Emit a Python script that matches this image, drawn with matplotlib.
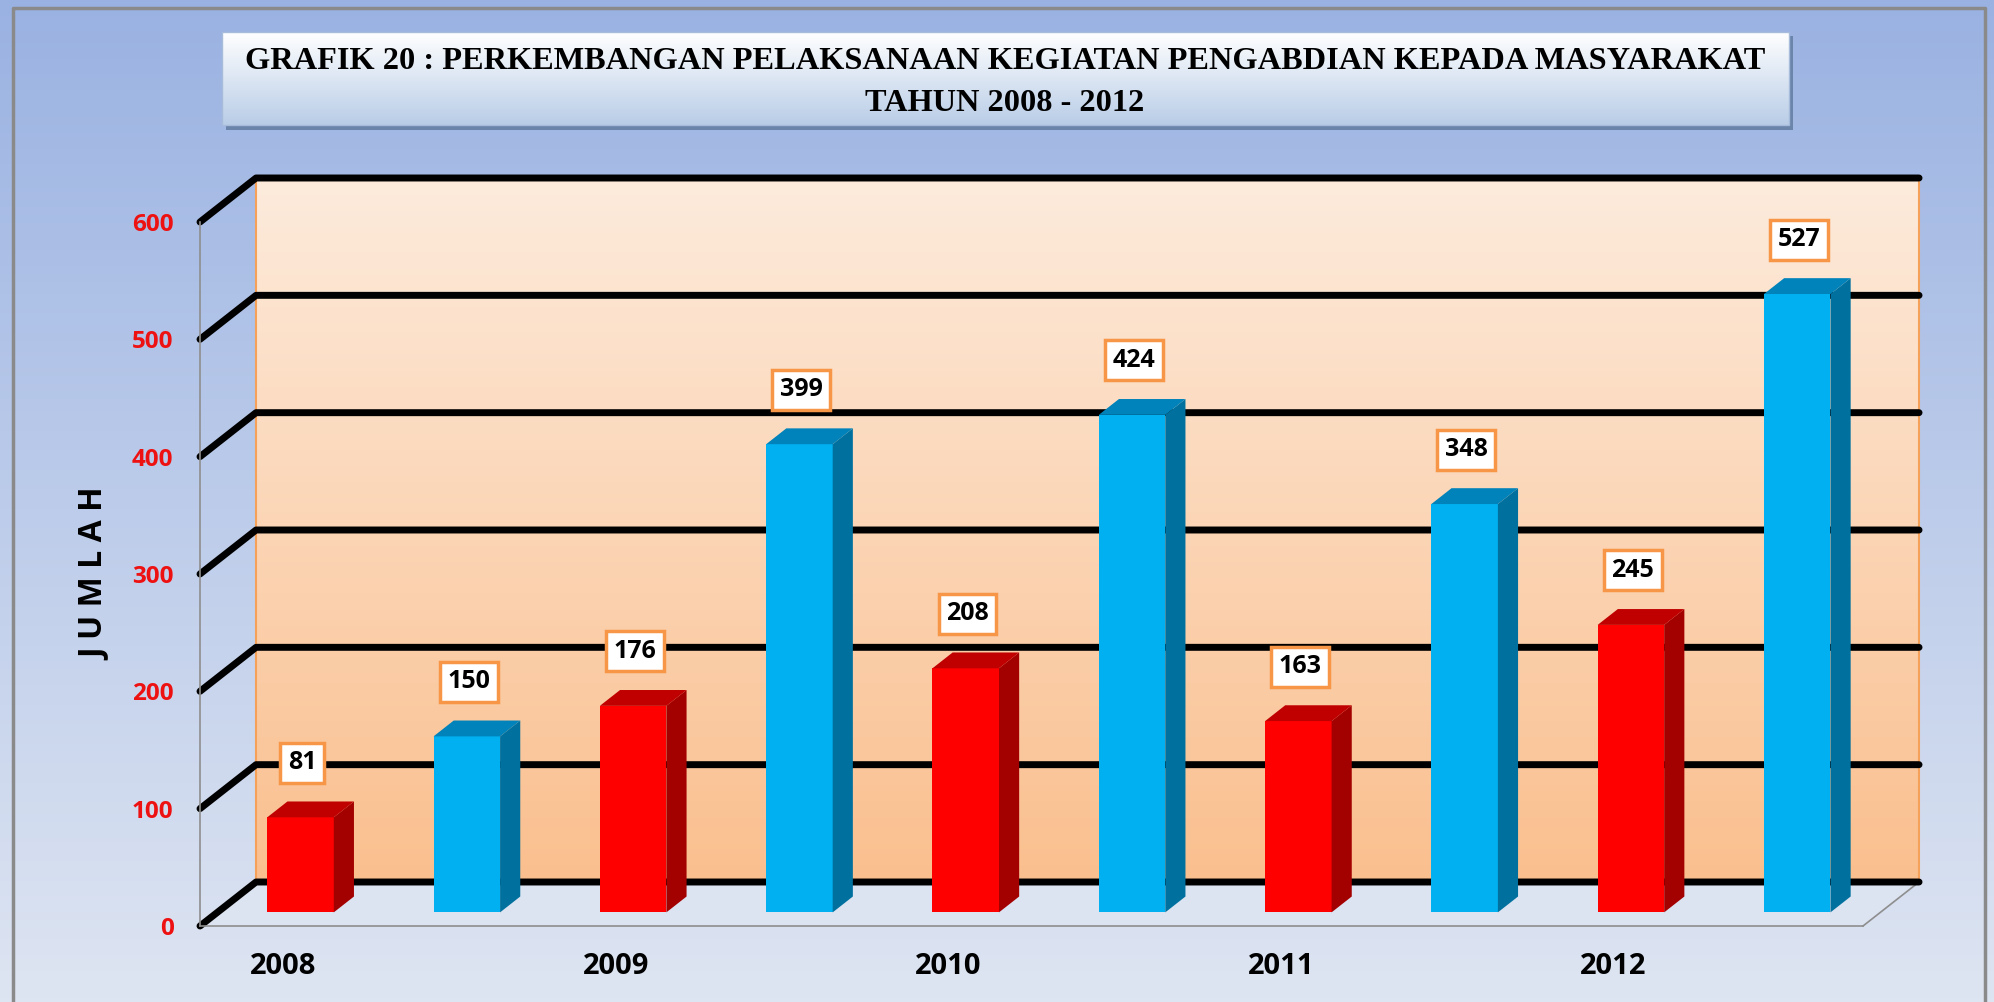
import numpy as np
import matplotlib.pyplot as plt
from matplotlib.patches import Polygon, Rectangle
from matplotlib.colors import LinearSegmentedColormap

plt.rcParams['font.family'] = ['Open Sans', 'DejaVu Sans']

# data
years = ['2008', '2009', '2010', '2011', '2012']
values = [81, 150, 176, 399, 208, 424, 163, 348, 245, 527]
front_colors = ['#FF0000', '#00B0F0'] * 5
side_colors = ['#A30000', '#00719F'] * 5
top_colors = ['#C00000', '#0082BA'] * 5
yticks = [0, 100, 200, 300, 400, 500, 600]
title1 = 'GRAFIK 20 : PERKEMBANGAN PELAKSANAAN KEGIATAN PENGABDIAN KEPADA MASYARAKAT'
title2 = 'TAHUN 2008 - 2012'

W, H = 1994, 1002
fig = plt.figure(figsize=(W / 100, H / 100), dpi=100)

# background + frame + title box (pixel coords)
bg = fig.add_axes([0, 0, 1, 1], zorder=0)
grad = np.linspace(0, 1, 256).reshape(-1, 1)
bg.imshow(grad, extent=[0, W, H, 0], aspect='auto', zorder=0,
          cmap=LinearSegmentedColormap.from_list('bg', ['#9AB2E2', '#DEE5F2']))
bg.plot([13, 13, 1985, 1985], [1010, 8, 8, 1010], color='#8A8A8A', lw=2.5, zorder=1)
bg.add_patch(Rectangle((226, 36), 1567, 94, fc='#6A84AA', ec='none', zorder=1))
bg.imshow(grad, extent=[222, 1789, 125, 32], aspect='auto', zorder=2,
          cmap=LinearSegmentedColormap.from_list('tb', ['#FFFFFF', '#B9CDE7']))
bg.add_patch(Rectangle((222, 32), 1567, 93, fc='none', ec='#A7BCDB', lw=1, zorder=3))
bg.text(1005, 61, title1, ha='center', va='center', family='Liberation Serif',
        weight='bold', fontsize=23.3, zorder=4)
bg.text(1005, 103, title2, ha='center', va='center', family='Liberation Serif',
        weight='bold', fontsize=23.3, zorder=4)
bg.set_xlim(0, W)
bg.set_ylim(H, 0)
bg.axis('off')

# main chart axes: front plane of the 3D box
x0, x1, y0, y1 = 200, 1863, 926, 222
ax = fig.add_axes([x0 / W, (H - y0) / H, (x1 - x0) / W, (y0 - y1) / H], zorder=1)
ax.patch.set_visible(False)

DX, DY = 0.337, 37.5    # depth of the box in data units
d0, d1 = 0.31, 0.67     # bar depth range
bw = 0.4

# back wall
wall = LinearSegmentedColormap.from_list('wall', ['#FDEBDC', '#FABF8E'])
ax.imshow(grad, extent=[-0.5 + DX, 9.5 + DX, DY, 600 + DY], cmap=wall,
          aspect='auto', clip_on=False, zorder=1)
for xe in [-0.5 + DX, 9.5 + DX]:
    ax.plot([xe, xe], [DY, 600 + DY], color='#F5A15A', lw=1.5, clip_on=False, zorder=1)

# floor
ax.add_patch(Polygon([(-0.5, 0), (9.5, 0), (9.5 + DX, DY), (-0.5 + DX, DY)],
                     closed=True, fc='#DCE3F1', ec='none', zorder=1, clip_on=False))
ax.plot([9.5, 9.5 + DX], [0, DY], color='#8E8E8E', lw=1.2, clip_on=False, zorder=1)

# gridlines on side wall and back wall
for v in yticks:
    ax.plot([-0.5, -0.5 + DX, 9.5 + DX], [v, v + DY, v + DY], color='black', lw=5,
            solid_capstyle='round', solid_joinstyle='round', clip_on=False, zorder=2)

# bars
for i, v in enumerate(values):
    xl = i - bw / 2 + d0 * DX
    xr = i + bw / 2 + d0 * DX
    yb = d0 * DY
    sx = (d1 - d0) * DX
    sy = (d1 - d0) * DY
    ax.add_patch(Polygon([(xl, yb), (xr, yb), (xr, v + yb), (xl, v + yb)],
                         fc=front_colors[i], ec='none', zorder=3, clip_on=False))
    ax.add_patch(Polygon([(xr, yb), (xr + sx, yb + sy), (xr + sx, v + yb + sy), (xr, v + yb)],
                         fc=side_colors[i], ec='none', zorder=3, clip_on=False))
    ax.add_patch(Polygon([(xl, v + yb), (xr, v + yb), (xr + sx, v + yb + sy), (xl + sx, v + yb + sy)],
                         fc=top_colors[i], ec='none', zorder=3, clip_on=False))
    ax.text(i + 0.115, v + 58, str(v), ha='center', va='center', fontsize=18,
            weight='bold', zorder=5,
            bbox=dict(boxstyle='square,pad=0.3', fc='white', ec='#F79646', lw=2.5))

ax.set_xlim(-0.5, 9.5)
ax.set_ylim(0, 600)
ax.set_xticks([0, 2, 4, 6, 8])
ax.set_xticklabels(years, fontsize=21, weight='bold')
ax.set_yticks(yticks)
ax.set_yticklabels([str(t) for t in yticks], fontsize=17.5, weight='bold', color='#EE1111')
ax.tick_params(axis='x', length=0, pad=19)
ax.tick_params(axis='y', length=0, pad=19)
for s in ['top', 'right']:
    ax.spines[s].set_visible(False)
for s in ['left', 'bottom']:
    ax.spines[s].set_color('#8E8E8E')
    ax.spines[s].set_linewidth(1.2)
ax.set_ylabel('J U M L A H', fontsize=23, weight='bold')
ax.yaxis.set_label_coords(-0.053, 0.5)

fig.savefig('out.png', dpi=100)
